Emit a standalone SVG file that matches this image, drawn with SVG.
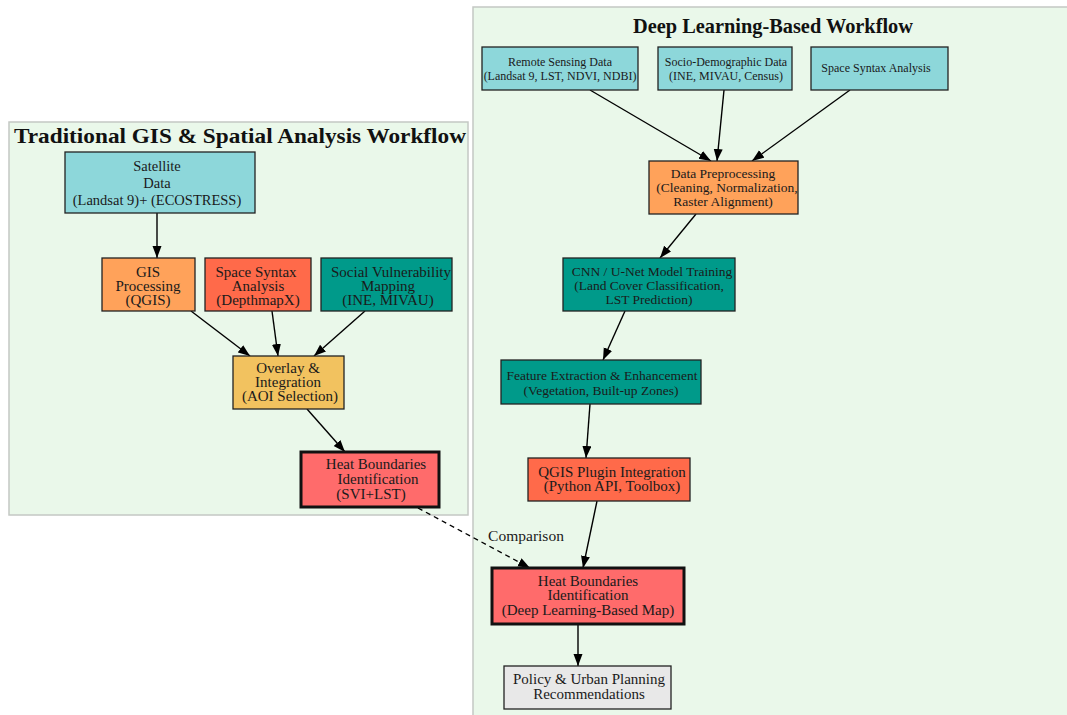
<svg xmlns="http://www.w3.org/2000/svg" width="1067" height="715" viewBox="0 0 1067 715">
<style>
text{font-family:"Liberation Serif","DejaVu Serif",serif;fill:#1a1a1a;text-anchor:middle}
.t{font-size:13.5px}
.m{font-size:15px}
.s{font-size:12px}
.title{font-size:21px;font-weight:bold;fill:#111}
.cl{fill:#eaf8ea;stroke:#c4c8c4;stroke-width:1.5}
.n{stroke:#222;stroke-width:1.3}
.b{stroke:#111;stroke-width:3}
.cy{fill:#8dd7da}
.or{fill:#ffa25a}
.tm{fill:#ff6a4a}
.te{fill:#009a8a}
.ye{fill:#f2c25f}
.rd{fill:#ff6b6b}
.gr{fill:#e8e8e8}
.e{stroke:#000;stroke-width:1.4;fill:none;marker-end:url(#ah)}
.d{stroke-dasharray:5,4}
</style>
<defs>
<marker id="ah" markerUnits="userSpaceOnUse" markerWidth="13" markerHeight="10" refX="12" refY="4.5" orient="auto">
<path d="M0,0 L12,4.5 L0,9 z" fill="#000"/>
</marker>
</defs>
<rect width="1067" height="715" fill="#fff"/>
<g id="cluster-left">
<rect class="cl" x="9" y="122" width="459" height="393"/>
<text class="title" x="240" y="143" textLength="452" lengthAdjust="spacingAndGlyphs">Traditional GIS &amp; Spatial Analysis Workflow</text>
</g>
<g id="cluster-right">
<rect class="cl" x="473" y="7" width="600" height="715"/>
<text class="title" x="773" y="33" textLength="280" lengthAdjust="spacingAndGlyphs">Deep Learning-Based Workflow</text>
</g>
<g id="connectors">
<line class="e" x1="157" y1="213" x2="157" y2="258"/>
<line class="e" x1="191" y1="311" x2="250" y2="356"/>
<line class="e" x1="272" y1="311" x2="278" y2="356"/>
<line class="e" x1="365" y1="311" x2="314" y2="356"/>
<line class="e" x1="307" y1="409" x2="345" y2="452"/>
<line class="e d" x1="418" y1="508" x2="530" y2="568"/>
<text class="m" x="526" y="541" style="font-size:15.5px">Comparison</text>
<line class="e" x1="590" y1="90" x2="711" y2="161"/>
<line class="e" x1="724" y1="90" x2="717" y2="161"/>
<line class="e" x1="850" y1="90" x2="752" y2="161"/>
<line class="e" x1="696" y1="214" x2="660" y2="258"/>
<line class="e" x1="625" y1="311" x2="603" y2="360"/>
<line class="e" x1="590" y1="404" x2="586" y2="458"/>
<line class="e" x1="597" y1="501" x2="583" y2="568"/>
<line class="e" x1="578" y1="624" x2="578" y2="666"/>
</g>
<g id="satellite">
<rect class="n cy" x="65" y="152" width="190" height="61"/>
<text class="m" x="157" y="171" style="font-size:14.5px">Satellite</text>
<text class="m" x="157" y="188" style="font-size:14.5px">Data</text>
<text class="m" x="157" y="205" style="font-size:14.5px">(Landsat 9)+ (ECOSTRESS)</text>
</g>
<g id="gis">
<rect class="n or" x="102" y="258" width="93" height="53"/>
<text class="m" x="148" y="277">GIS</text>
<text class="m" x="148" y="291">Processing</text>
<text class="m" x="148" y="305">(QGIS)</text>
</g>
<g id="spacesyntax-l">
<rect class="n tm" x="205" y="258" width="106" height="53"/>
<text class="m" x="256" y="277">Space Syntax</text>
<text class="m" x="258" y="291">Analysis</text>
<text class="m" x="258" y="305">(DepthmapX)</text>
</g>
<g id="social">
<rect class="n te" x="321" y="258" width="131" height="53"/>
<text class="m" x="391" y="277">Social Vulnerability</text>
<text class="m" x="388" y="291">Mapping</text>
<text class="m" x="388" y="305">(INE, MIVAU)</text>
</g>
<g id="overlay">
<rect class="n ye" x="233" y="356" width="111" height="53"/>
<text class="m" x="288" y="373">Overlay &amp;</text>
<text class="m" x="288" y="387">Integration</text>
<text class="m" x="290" y="401">(AOI Selection)</text>
</g>
<g id="heat-l">
<rect class="b rd" x="301" y="452" width="138" height="55"/>
<text class="m" x="376" y="469">Heat Boundaries</text>
<text class="m" x="378" y="484">Identification</text>
<text class="m" x="371" y="499">(SVI+LST)</text>
</g>
<g id="remote">
<rect class="n cy" x="482" y="47" width="156" height="43"/>
<text class="s" x="560" y="66">Remote Sensing Data</text>
<text class="s" x="560" y="80">(Landsat 9, LST, NDVI, NDBI)</text>
</g>
<g id="socio">
<rect class="n cy" x="658" y="47" width="134" height="43"/>
<text class="s" x="726" y="66">Socio-Demographic Data</text>
<text class="s" x="726" y="80">(INE, MIVAU, Census)</text>
</g>
<g id="spacesyntax-r">
<rect class="n cy" x="811" y="47" width="137" height="43"/>
<text class="s" x="876" y="72">Space Syntax Analysis</text>
</g>
<g id="preproc">
<rect class="n or" x="649" y="161" width="149" height="53"/>
<text class="t" x="723" y="178">Data Preprocessing</text>
<text class="t" x="727" y="192">(Cleaning, Normalization,</text>
<text class="t" x="723" y="206">Raster Alignment)</text>
</g>
<g id="cnn">
<rect class="n te" x="563" y="258" width="172" height="53"/>
<text class="t" x="652" y="276">CNN / U-Net Model Training</text>
<text class="t" x="649" y="290">(Land Cover Classification,</text>
<text class="t" x="649" y="304">LST Prediction)</text>
</g>
<g id="feature">
<rect class="n te" x="501" y="360" width="200" height="44"/>
<text class="t" x="602" y="380">Feature Extraction &amp; Enhancement</text>
<text class="t" x="601" y="395">(Vegetation, Built-up Zones)</text>
</g>
<g id="qgis-plugin">
<rect class="n tm" x="528" y="458" width="162" height="43"/>
<text class="m" x="612" y="477">QGIS Plugin Integration</text>
<text class="m" x="612" y="491">(Python API, Toolbox)</text>
</g>
<g id="heat-r">
<rect class="b rd" x="492" y="568" width="192" height="56"/>
<text class="m" x="588" y="586">Heat Boundaries</text>
<text class="m" x="588" y="600">Identification</text>
<text class="m" x="588" y="615">(Deep Learning-Based Map)</text>
</g>
<g id="policy">
<rect class="n gr" x="504" y="666" width="167" height="43"/>
<text class="m" x="589" y="684">Policy &amp; Urban Planning</text>
<text class="m" x="589" y="699">Recommendations</text>
</g>
</svg>
